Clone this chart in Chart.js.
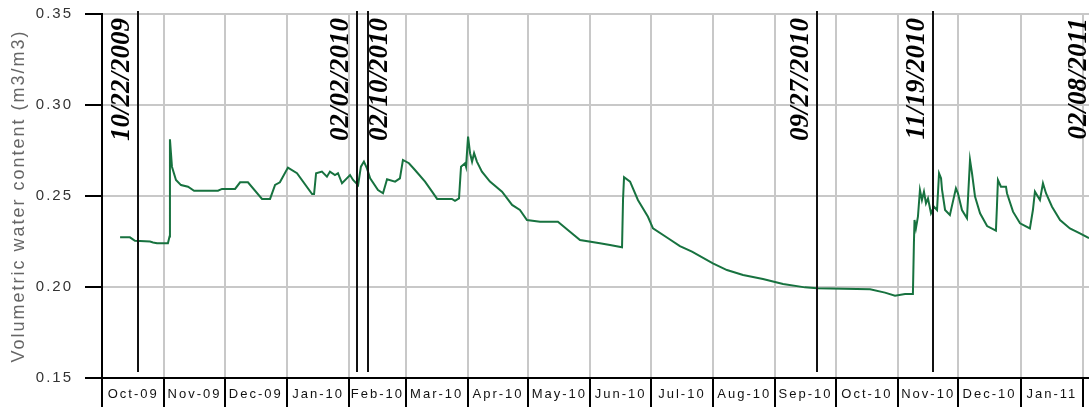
<!DOCTYPE html>
<html>
<head>
<meta charset="utf-8">
<script src="https://cdn.jsdelivr.net/npm/chart.js@4.4.1/dist/chart.umd.min.js"></script>
<style>
  html, body { margin: 0; padding: 0; background: #fff; }
  #wrap { width: 1089px; height: 410px; }
</style>
</head>
<body>
<div id="wrap"><canvas id="chart" width="1089" height="410"></canvas></div>
<script>
// x values are days counted from 1 Oct 2009
const monthLabels = ['Oct-09', 'Nov-09', 'Dec-09', 'Jan-10', 'Feb-10', 'Mar-10', 'Apr-10', 'May-10',
  'Jun-10', 'Jul-10', 'Aug-10', 'Sep-10', 'Oct-10', 'Nov-10', 'Dec-10', 'Jan-11']
const monthStarts = [0, 31, 61, 92, 123, 151, 182, 212, 243, 273, 304, 335, 365, 396, 426, 457, 488]

const yTicks = [0.15, 0.20, 0.25, 0.30, 0.35]

// volumetric water content
const dayData = [
  9.0, 13.9, 16.4, 23.9, 25.4, 27.4, 32.8, 33.6, 33.8, 34.3, 34.8, 36.8, 39.3, 42.8, 45.8, 57.7,
  59.7, 66.2, 68.7, 72.6, 79.6, 83.6, 86.1, 88.5, 92.5, 97.0, 104.5, 105.5, 106.5, 109.4, 111.9,
  113.4, 115.9, 117.4, 119.4, 123.4, 124.9, 127.4, 128.8, 130.3, 131.8, 133.4, 137.3, 139.8, 141.8,
  145.8, 148.2, 149.7, 152.7, 155.7, 160.7, 164.2, 166.7, 174.1, 175.6, 177.6, 178.6, 180.6, 181.1,
  182.1, 183.1, 184.1, 185.1, 186.5, 189.0, 193.0, 199.0, 204.0, 207.9, 211.4, 217.9, 226.8, 232.8,
  237.8, 247.7, 252.7, 258.7, 259.2, 259.7, 262.7, 266.6, 271.6, 274.1, 281.6, 287.5, 293.5, 303.9,
  310.9, 318.9, 328.8, 338.8, 349.7, 355.7, 382.1, 389.5, 394.5, 399.5, 403.4, 403.9, 404.2, 404.9,
  405.9, 406.9, 407.9, 408.9, 409.9, 410.9, 412.4, 413.9, 415.4, 416.4, 417.4, 417.9, 419.4, 421.8,
  423.3, 424.8, 425.8, 427.8, 430.3, 431.8, 432.8, 434.3, 436.8, 440.3, 444.7, 445.2, 445.7, 447.2,
  449.7, 450.2, 453.2, 456.7, 461.6, 463.1, 464.1, 466.6, 468.1, 469.6, 472.6, 476.6, 481.5, 486.5,
  491.0
]
const vwcData = [
  0.2273, 0.2273, 0.2254, 0.2250, 0.2245, 0.2240, 0.2240, 0.2277, 0.2812, 0.2736, 0.2661, 0.2588,
  0.2560, 0.2551, 0.2529, 0.2529, 0.2539, 0.2539, 0.2575, 0.2575, 0.2484, 0.2484, 0.2561, 0.2575,
  0.2656, 0.2625, 0.2511, 0.2511, 0.2625, 0.2634, 0.2606, 0.2634, 0.2615, 0.2625, 0.2570, 0.2615,
  0.2588, 0.2560, 0.2661, 0.2689, 0.2652, 0.2597, 0.2533, 0.2515, 0.2592, 0.2579, 0.2597, 0.2698,
  0.2680, 0.2643, 0.2579, 0.2524, 0.2484, 0.2484, 0.2473, 0.2487, 0.2661, 0.2680, 0.2661, 0.2826,
  0.2735, 0.2689, 0.2735, 0.2689, 0.2634, 0.2579, 0.2524, 0.2451, 0.2423, 0.2368, 0.2359, 0.2359,
  0.2304, 0.2258, 0.2240, 0.2231, 0.2218, 0.2482, 0.2603, 0.2579, 0.2478, 0.2386, 0.2322, 0.2268,
  0.2225, 0.2194, 0.2130, 0.2093, 0.2066, 0.2044, 0.2016, 0.1998, 0.1993, 0.1987, 0.1969, 0.1952,
  0.1962, 0.1962, 0.2240, 0.2368, 0.2322, 0.2386, 0.2533, 0.2478, 0.2524, 0.2460, 0.2487, 0.2405,
  0.2441, 0.2423, 0.2625, 0.2597, 0.2533, 0.2423, 0.2396, 0.2469, 0.2542, 0.2515, 0.2423, 0.2378,
  0.2698, 0.2625, 0.2497, 0.2405, 0.2335, 0.2310, 0.2441, 0.2588, 0.2551, 0.2551, 0.2515, 0.2414,
  0.2350, 0.2322, 0.2423, 0.2524, 0.2478, 0.2570, 0.2515, 0.2441, 0.2368, 0.2322, 0.2295, 0.2268
]

// marked dates, placed where the picture draws them
const eventDays = [17.8, 126.7, 132.5, 355.5, 413.2, 494]
const eventLabels = ['10/22/2009', '02/02/2010', '02/10/2010', '09/27/2010', '11/19/2010', '02/08/2011']

const monthMids = monthLabels.map((_, i) => (monthStarts[i] + monthStarts[i + 1]) / 2)
const isBoundary = v => monthStarts.includes(v)

const eventMarkers = {
  id: 'eventMarkers',
  beforeDraw(chart) {
    chart.ctx.letterSpacing = '2px'
  },
  afterDatasetsDraw(chart) {
    const { ctx, chartArea, scales: { x } } = chart
    ctx.save()
    ctx.letterSpacing = '0px'
    eventDays.forEach((d, i) => {
      const px = Math.round(x.getPixelForValue(d))
      ctx.strokeStyle = '#111'
      ctx.lineWidth = 2
      ctx.beginPath()
      ctx.moveTo(px, chartArea.top - 3)
      ctx.lineTo(px, chartArea.bottom - 6)
      ctx.stroke()

      // label sits left of its line unless the previous marker is right next to it
      const crowded = i > 0 && d - eventDays[i - 1] < 10
      ctx.save()
      ctx.translate(crowded ? px + 12 : px - 16, chartArea.top + 4)
      ctx.rotate(-Math.PI / 2)
      ctx.font = 'italic bold 27px "Liberation Serif", "Times New Roman", serif'
      ctx.fillStyle = '#000'
      ctx.textAlign = 'right'
      ctx.textBaseline = 'middle'
      ctx.fillText(eventLabels[i], 0, 0)
      ctx.restore()
    })
    ctx.restore()
  }
}

new Chart(document.getElementById('chart'), {
  type: 'line',
  data: {
    datasets: [{
      label: 'VWC',
      data: dayData.map((d, i) => ({ x: d, y: vwcData[i] })),
      borderColor: '#17723f',
      borderWidth: 2,
      pointRadius: 0,
      tension: 0,
      fill: false
    }]
  },
  options: {
    responsive: false,
    animation: false,
    devicePixelRatio: 1,
    layout: { padding: { top: 14, right: 0, left: 0, bottom: 0 } },
    plugins: {
      legend: { display: false },
      tooltip: { enabled: false }
    },
    scales: {
      x: {
        type: 'linear',
        min: 0,
        max: 491,
        afterBuildTicks: scale => {
          scale.ticks = monthStarts.concat(monthMids).sort((a, b) => a - b).map(v => ({ value: v }))
        },
        afterFit: scale => {
          scale.height = 32
          scale.paddingLeft = 0
          scale.paddingRight = 0
        },
        border: { color: '#000', width: 2 },
        grid: {
          color: ctx => isBoundary(ctx.tick.value) ? '#c8c8c8' : 'rgba(0,0,0,0)',
          tickColor: ctx => isBoundary(ctx.tick.value) ? '#000' : 'rgba(0,0,0,0)',
          lineWidth: 2,
          tickLength: 29,
          drawTicks: true
        },
        ticks: {
          autoSkip: false,
          maxRotation: 0,
          padding: -20,
          color: '#111',
          font: { family: '"Liberation Sans", Arial, sans-serif', size: 13 },
          callback: value => {
            const i = monthMids.indexOf(value)
            return i >= 0 ? monthLabels[i] : ''
          }
        }
      },
      y: {
        min: 0.15,
        max: 0.35,
        afterBuildTicks: scale => {
          scale.ticks = yTicks.map(v => ({ value: v }))
        },
        afterFit: scale => {
          scale.width = 102
          scale.paddingTop = 0
          scale.paddingBottom = 0
        },
        border: { color: '#000', width: 2 },
        grid: {
          color: '#c8c8c8',
          tickColor: '#000',
          lineWidth: 2,
          tickLength: 17
        },
        ticks: {
          padding: 12,
          color: '#333',
          font: { family: '"Liberation Sans", Arial, sans-serif', size: 15 },
          callback: v => v.toFixed(2)
        },
        title: {
          display: true,
          text: 'Volumetric water content (m3/m3)',
          color: '#666',
          padding: { top: 8, bottom: 0 },
          font: { family: '"Liberation Sans", Arial, sans-serif', size: 18 }
        }
      }
    }
  },
  plugins: [eventMarkers]
})
</script>
</body>
</html>
